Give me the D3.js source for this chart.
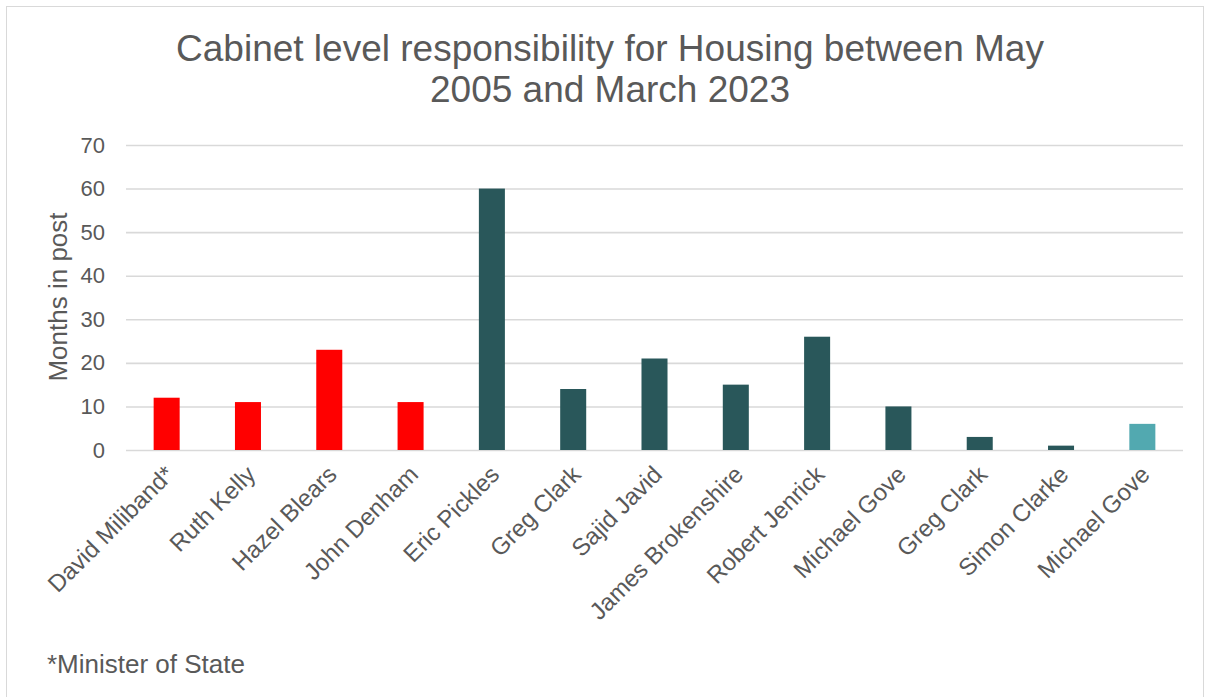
<!DOCTYPE html>
<html><head><meta charset="utf-8">
<script src="https://cdn.jsdelivr.net/npm/d3@7"></script>
<style>body{margin:0;background:#fff}svg{display:block}text{font-family:"Liberation Sans",Arial,sans-serif}</style>
</head><body><svg id="c" width="1205" height="697"></svg>
<script>
const ministers = ["David Miliband*","Ruth Kelly","Hazel Blears","John Denham","Eric Pickles","Greg Clark","Sajid Javid","James Brokenshire","Robert Jenrick","Michael Gove","Greg Clark","Simon Clarke","Michael Gove"];
const months = [12,11,23,11,60,14,21,15,26,10,3,1,6];
const party = ["lab","lab","lab","lab","con","con","con","con","con","con","con","con","cur"];
const yTicks = [0,10,20,30,40,50,60,70];
const titleLines = ["Cabinet level responsibility for Housing between May","2005 and March 2023"];
const colors = {lab:"#FF0000", con:"#29575A", cur:"#52A9B0"};

const svg = d3.select("#c");
const grey = "#595959";
const ff = "Liberation Sans, Arial, sans-serif";
svg.append("rect").attr("x",6.5).attr("y",6.5).attr("width",1197).attr("height",700).attr("fill","#fff").attr("stroke","#d9d9d9");

const pLeft = 126, pRight = 1183, pTop = 145, pBottom = 450;
const x = d3.scaleBand().domain(d3.range(ministers.length)).range([pLeft,pRight]).paddingInner(0.68).paddingOuter(0.34);
const y = d3.scaleLinear().domain([0,70]).range([pBottom,pTop]);

const yAxis = svg.append("g").attr("transform",`translate(${pLeft},0)`)
  .call(d3.axisLeft(y).tickValues(yTicks).tickSize(-(pRight-pLeft)).tickPadding(21));
yAxis.select(".domain").remove();
yAxis.selectAll("line").attr("stroke","#d9d9d9").attr("stroke-width",1.6);
yAxis.selectAll("text").attr("fill",grey).attr("font-size","22px").style("font-family",ff);

svg.append("g").selectAll("rect").data(months).join("rect")
  .attr("x",(d,i)=>x(i)).attr("width",x.bandwidth())
  .attr("y",d=>y(d)).attr("height",d=>y(0)-y(d))
  .attr("fill",(d,i)=>colors[party[i]]);

const xAxis = svg.append("g").attr("transform",`translate(0,${pBottom})`)
  .call(d3.axisBottom(x).tickFormat(i=>ministers[i]).tickSize(0));
xAxis.select(".domain").remove();
xAxis.selectAll("text")
  .attr("fill",grey).attr("font-size","24px").style("font-family",ff)
  .attr("text-anchor","end").attr("dy","0.35em")
  .attr("transform","translate(3,20) rotate(-45)").attr("y",0).attr("x",0);

svg.append("text").attr("transform","translate(67,297) rotate(-90)")
  .attr("text-anchor","middle").attr("fill",grey).attr("font-size","26px").text("Months in post");

svg.selectAll(".title").data(titleLines).join("text").attr("class","title")
  .attr("x",610).attr("y",(d,i)=>61+i*41).attr("text-anchor","middle")
  .attr("fill",grey).attr("font-size","37px").text(d=>d);

svg.append("text").attr("x",47).attr("y",673).attr("fill",grey).attr("font-size","26px").text("*Minister of State");
</script></body></html>
